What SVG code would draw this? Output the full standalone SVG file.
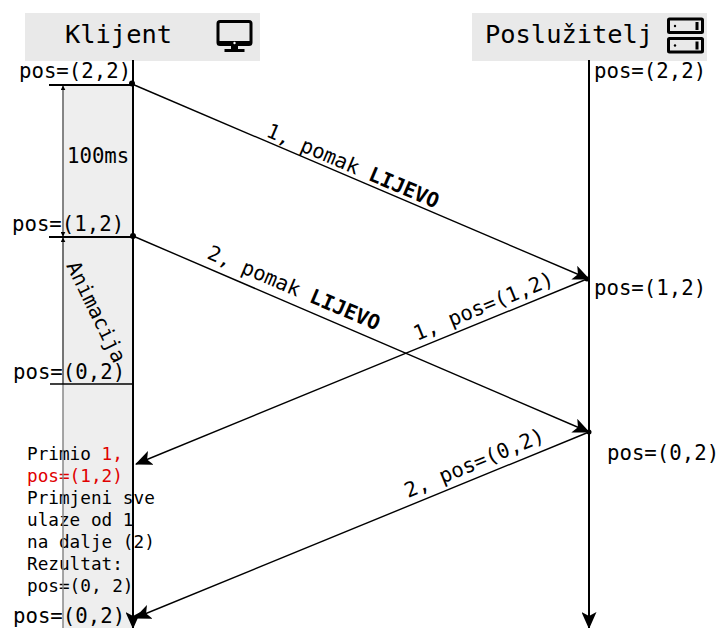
<svg xmlns="http://www.w3.org/2000/svg" width="718" height="628" viewBox="0 0 718 628">
<style>
text{font-family:"DejaVu Sans Mono",monospace;fill:#000}
.h{font-size:25.400px}
.p{font-size:20.700px}
.l{font-size:20.500px}
.r{font-size:20.700px}
.n{font-size:17.700px}
.line{stroke:#000;stroke-width:1.400;fill:none}
.life{stroke:#000;stroke-width:2;fill:none}
.tick{stroke:#000;stroke-width:2;fill:none}
.bg{fill:#e9e9e9}
.ic{fill:none;stroke:#000;stroke-width:3}
</style>
<defs>
<marker id="a" viewBox="0 0 17 15" refX="16" refY="7.500" markerWidth="17" markerHeight="15" markerUnits="userSpaceOnUse" orient="auto"><path d="M0 0L17 7.500L0 15L4 7.500Z" fill="#000"/></marker>
<marker id="b" viewBox="0 0 8 8" refX="7" refY="4" markerWidth="5" markerHeight="5" markerUnits="userSpaceOnUse" orient="auto-start-reverse"><path d="M0 0L8 4L0 8Z" fill="#000"/></marker>
</defs>
<rect x="63" y="85" width="70" height="543" fill="#eeeeee"/>
<g id="labels">
<text class="p" x="19" y="78">pos=(2,2)</text>
<text class="p" x="594" y="78">pos=(2,2)</text>
<text class="p" x="67" y="163">100ms</text>
<text class="p" x="12" y="231">pos=(1,2)</text>
<text class="p" x="594" y="295">pos=(1,2)</text>
<text class="p" x="13" y="379">pos=(0,2)</text>
<text class="p" x="607" y="460">pos=(0,2)</text>
<text class="p" x="13" y="623">pos=(0,2)</text>
<text class="p" style="font-size:20.300px" transform="translate(66 265.500) rotate(64)">Animacija</text>
<text class="l" transform="translate(265 136) rotate(23.100)">1, pomak <tspan font-weight="700">LIJEVO</tspan></text>
<text class="l" transform="translate(206 258) rotate(23.100)">2, pomak <tspan font-weight="700">LIJEVO</tspan></text>
<text class="r" transform="translate(417 341) rotate(-22.300)">1, pos=(1,2)</text>
<text class="r" transform="translate(408 498) rotate(-22.500)">2, pos=(0,2)</text>
<text class="n" x="27" y="460">Primio <tspan style="fill:#e00000">1,</tspan></text>
<text class="n" x="27" y="482" style="fill:#e00000">pos=(1,2)</text>
<text class="n" x="27" y="504">Primjeni sve</text>
<text class="n" x="27" y="526">ulaze od 1</text>
<text class="n" x="27" y="548">na dalje (2)</text>
<text class="n" x="27" y="570">Rezultat:</text>
<text class="n" x="27" y="592">pos=(0, 2)</text>
</g>
<g id="client-header"><rect class="bg" x="25" y="13" width="235" height="48"/><text class="h" x="65" y="43">Klijent</text>
<rect x="218" y="21.500" width="33" height="23" rx="2" class="ic"/><path d="M218 41h33v4h-33z" fill="#000"/><path d="M231 45h7v4h-7zM224.500 49h20v3h-20z" fill="#000"/><circle cx="234.500" cy="43" r="1.200" fill="#fff"/></g>
<g id="server-header"><rect class="bg" x="472" y="13" width="235" height="48"/><text class="h" x="485" y="43">Poslužitelj</text>
<rect x="668.500" y="19" width="34" height="13.500" rx="1" class="ic"/><rect x="668.500" y="38.500" width="34" height="13.500" rx="1" class="ic"/><circle cx="675" cy="26" r="1.200" fill="#000"/><circle cx="675" cy="45.500" r="1.200" fill="#000"/><path d="M697 22v8M697 41.500v8" stroke="#000" stroke-width="3"/></g>
<g id="connectors">
<path class="life" d="M133 60V628" marker-end="url(#a)"/>
<path class="life" d="M589 60V628" marker-end="url(#a)"/>
<path d="M63 85V628" stroke="#888" stroke-width="1.500" fill="none"/>
<path d="M63 86V236" stroke="#666" stroke-width="1" fill="none" marker-start="url(#b)" marker-end="url(#b)"/>
<path d="M63 238V384" stroke="#444" stroke-width="1" fill="none" marker-start="url(#b)"/>
<path class="tick" d="M49 85H133M49 237H133"/><path d="M50 384H133" stroke="#000" stroke-width="1.500"/>
<circle cx="132" cy="83.500" r="3"/><circle cx="133" cy="236" r="3"/><circle cx="587" cy="279" r="2.500"/><circle cx="589" cy="432" r="2.500"/>
<path class="line" d="M132 84L589 279" marker-end="url(#a)"/>
<path class="line" d="M133 236L589 432" marker-end="url(#a)"/>
<path class="line" d="M587 279L136 464" marker-end="url(#a)"/>
<path class="line" d="M589 432L135 618" marker-end="url(#a)"/>
</g>
</svg>
